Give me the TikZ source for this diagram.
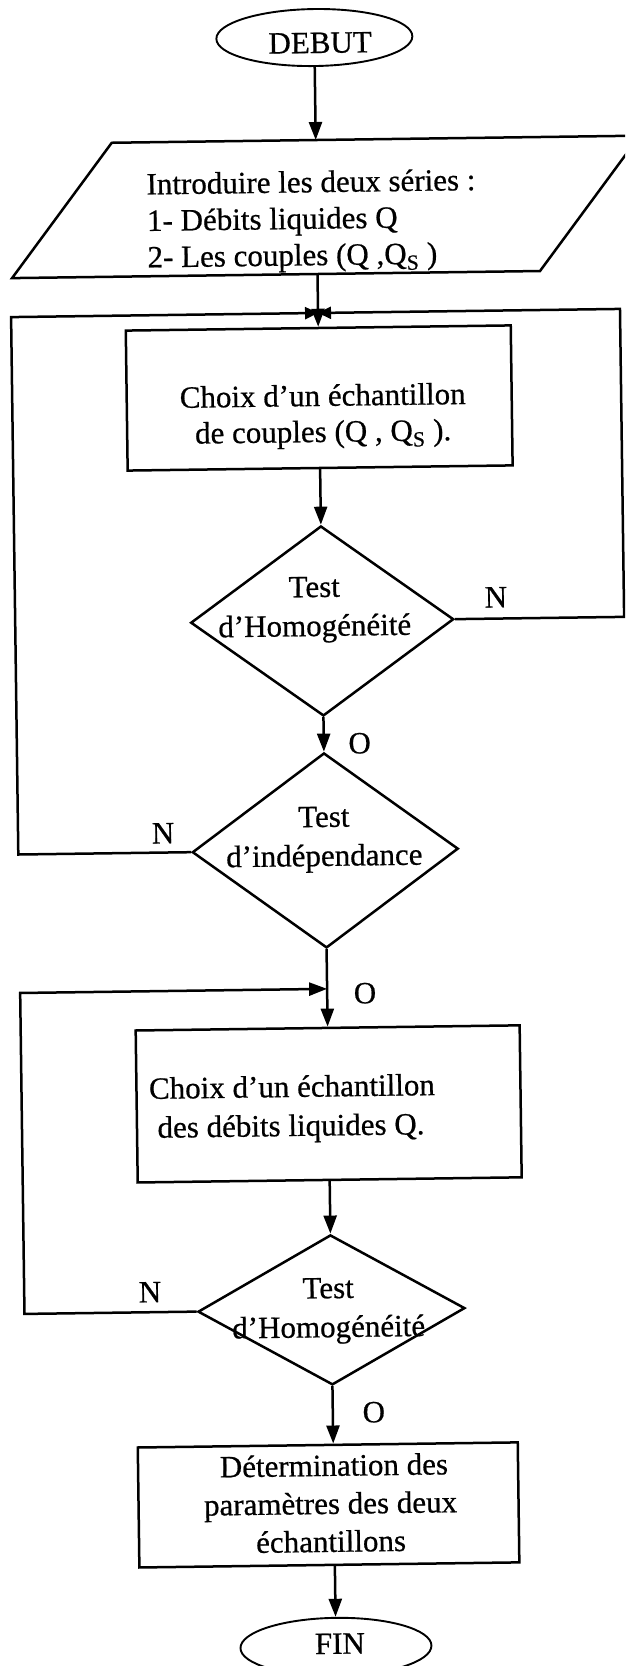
\documentclass[tikz,border=0pt]{standalone}
\usepackage{fontspec}
\setmainfont{Liberation Serif}[FakeBold=0.6]
\usetikzlibrary{shapes.geometric,arrows.meta}
\newcommand\chartfont[1]{\fontsize{31}{#1}\selectfont}

\begin{document}
\begin{tikzpicture}[x=1pt,y=-1pt,
  line width=2.5pt,
  arr/.style={-{Triangle[length=18pt,width=13pt]}},
  sarr/.style={-{Triangle[length=13pt,width=12pt]}},
  term/.style={ellipse, draw, line width=1.9pt, inner sep=0pt},
  proc/.style={rectangle, draw, inner sep=0pt},
  test/.style={diamond, draw, inner sep=0pt},
  txt/.style={inner sep=0pt, font=\chartfont{#1}},
  txt/.default=37,
  lab/.style={inner sep=0pt, anchor=base, font=\chartfont{37}}]

\useasboundingbox (0,0) rectangle (625,1666);
\fill[white] (0,0) rectangle (625,1666);
\clip (0,0) rectangle (625,1666);

\begin{scope}[rotate around={0.77:(320,830)}, transform shape]

% start
\node[term, minimum width=196pt, minimum height=57pt] (debut) at (325,37.5) {};
\node[lab] (debutT) at (330.7,53) {DEBUT};

% data input
\coordinate (pTop) at (325,140);
\coordinate (pBot) at (325,274);
\draw (19.5,274) -- (547.5,274) -- (649,140) -- (121,140) -- cycle;
\node[txt=36.5, anchor=west, align=left] (introT) at (154,221.4)
  {\strut Introduire les deux séries :\\
   \strut 1- Débits liquides Q\\
   \strut 2- Les couples (Q ,Q\textsubscript{S} )};

% first sample
\node[proc, minimum width=385pt, minimum height=140pt] (b1) at (325,398) {};
\node[txt=36, align=center] (b1T) at (328.5,416.8)
  {\strut Choix d’un échantillon\\
   \strut de couples (Q , Q\textsubscript{S} ).};

% tests on the pairs
\node[test, minimum width=263pt, minimum height=190pt] (d1) at (325,621) {};
\node[txt=39, align=center] (d1T) at (317.5,608.7)
  {\strut Test\\\strut d’Homogénéité};

\node[test, minimum width=266pt, minimum height=195pt] (d2) at (325,850.5) {};
\node[txt=39, align=center] (d2T) at (324,838.7)
  {\strut Test\\\strut d’indépendance};

% second sample
\node[proc, minimum width=384pt, minimum height=152pt] (b2) at (325,1104) {};
\node[txt=39, anchor=west, align=left] (b2T) at (144.3,1108.3)
  {\strut Choix d’un échantillon\\
   \hspace*{8pt}\strut des débits liquides Q.};

\node[test, minimum width=267pt, minimum height=150pt] (d3) at (325,1310) {};
\node[txt=39, align=center] (d3T) at (322,1310)
  {\strut Test\\\strut d’Homogénéité};

% result
\node[proc, minimum width=380pt, minimum height=120pt] (b3) at (319.5,1505) {};
\node[txt=38, align=center] (b3T) at (321.5,1506.4)
  {\strut\hspace*{7.75pt}Détermination des\\
   \strut paramètres des deux\\
   \strut échantillons};

% end
\node[term, minimum width=191pt, minimum height=58pt] (fin) at (325,1647) {};
\node[lab] (finT) at (329,1654) {FIN};

% loop corners
\coordinate (m1) at (325,313);
\coordinate (rTop) at (627,313);
\coordinate (lTop) at (18,313);
\coordinate (m2) at (325,989);
\coordinate (l2Top) at (18,989);

% main flow
\draw[arr] (debut) -- (pTop);
\draw[arr] (pBot) -- (b1);
\draw[arr] (b1) -- (d1);
\draw[arr] (d1) -- (d2);
\draw[arr] (d2) -- (b2);
\draw[arr] (b2) -- (d3);
\draw[arr] (d3.south) -- (d3.south |- b3.north);
\draw[arr] (b3.south -| fin.north) -- (fin.north);

% loops back on rejection
\draw[sarr] (d1.east) -| (rTop) -- (m1);
\draw[sarr] (d2.west) -| (lTop) -- (m1);
\draw[arr] (d3.west) -| (l2Top) -- (m2);

% branch labels
\node[lab] (n1) at (499,609.8) {N};
\node[lab] (o1) at (360.8,753.9) {O};
\node[lab] (n2) at (163,841.3) {N};
\node[lab] (o2) at (362.8,1003.9) {O};
\node[lab] (n3) at (143.8,1300) {N};
\node[lab] (o3) at (366,1423) {O};

\end{scope}
\end{tikzpicture}
\end{document}
